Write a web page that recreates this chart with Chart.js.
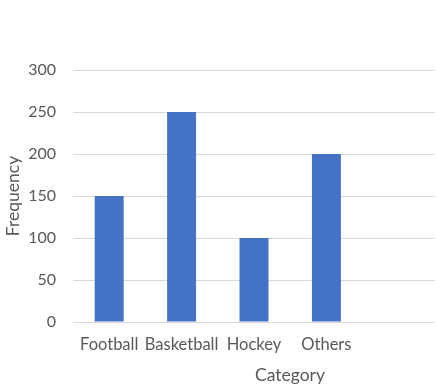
<!DOCTYPE html>
<html>
<head>
<meta charset="utf-8">
<script src="https://cdn.jsdelivr.net/npm/chart.js@4/dist/chart.umd.min.js"></script>
<style>
  html, body { margin: 0; padding: 0; background: #fff; }
  #wrap { width: 438px; height: 387px; }
</style>
</head>
<body>
<div id="wrap"><canvas id="chart" width="438" height="387"></canvas></div>
<script>
// data
const categories = ['Football', 'Basketball', 'Hockey', 'Others', ''];
const frequency = [150, 250, 100, 200, null];
const yTicks = [0, 50, 100, 150, 200, 250, 300];

const FONT = 'Lato, "Open Sans", sans-serif';
const TEXT = '#595959';

// axis titles drawn by hand so they sit where the original puts them
const axisTitles = {
  id: 'axisTitles',
  afterDraw(chart){
    const ctx = chart.ctx;
    const a = chart.chartArea;
    ctx.save();
    ctx.fillStyle = TEXT;
    ctx.font = '17.5px ' + FONT;
    ctx.textAlign = 'center';
    ctx.textBaseline = 'middle';
    ctx.fillText('Category', 290, 375);
    ctx.translate(13, (a.top + a.bottom) / 2);
    ctx.rotate(-Math.PI / 2);
    ctx.fillText('Frequency', 0, 0);
    ctx.restore();
  }
};

new Chart(document.getElementById('chart').getContext('2d'), {
  type: 'bar',
  data: {
    labels: categories,
    datasets: [{
      label: 'Frequency',
      data: frequency,
      backgroundColor: '#4472c4',
      borderWidth: 0,
      categoryPercentage: 1,
      barPercentage: 0.4
    }]
  },
  options: {
    responsive: false,
    animation: false,
    layout: { padding: { top: 70, right: 3, left: 0, bottom: 0 } },
    plugins: { legend: { display: false }, tooltip: { enabled: false } },
    scales: {
      x: {
        grid: { display: false, drawTicks: false },
        border: { display: false },
        ticks: { color: TEXT, font: { family: FONT, size: 16.5 }, padding: 13, maxRotation: 0, autoSkip: false },
        afterFit: s => { s.height = 65; }
      },
      y: {
        min: 0,
        max: 300,
        afterBuildTicks: s => { s.ticks = yTicks.map(v => ({ value: v })); },
        grid: { color: '#d9d9d9', lineWidth: 1, drawTicks: false },
        border: { display: false },
        ticks: { color: TEXT, font: { family: FONT, size: 16 }, padding: 17 },
        afterFit: s => { s.width = 73; }
      }
    }
  },
  plugins: [axisTitles]
});
</script>
</body>
</html>
